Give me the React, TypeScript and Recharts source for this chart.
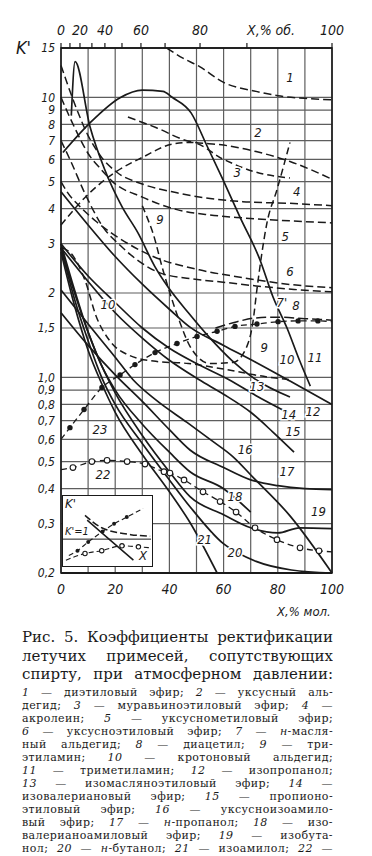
import React from "react";
import {
  LineChart,
  Line,
  XAxis,
  YAxis,
  CartesianGrid,
  ReferenceArea,
  ReferenceDot,
  ReferenceLine,
} from "recharts";

type Pt = { x: number; k: number; m?: boolean };

// axes
const yTicks = [0.2, 0.3, 0.4, 0.5, 0.6, 0.7, 0.8, 0.9, 1, 1.5, 2, 3, 4, 5, 6, 7, 8, 9, 10, 15];
const molTicks = [0, 10, 20, 30, 40, 50, 60, 70, 80, 90, 100];
const molLabels = [0, 20, 40, 60, 80, 100];
// mole-% positions of the volume-% ticks on the top axis
const volTickPos = [0, 3.3, 7.0, 11.4, 16.2, 22.5, 29.5, 38.4, 51.3, 68.6, 100];
const volTickText = ["0", "", "20", "", "40", "", "60", "", "80", "", "100"];

// curves: x = % mol, k = K'
const curve1: Pt[] = [
  { x: 39, k: 15 }, { x: 45, k: 13.8 }, { x: 51, k: 12.9 }, { x: 60, k: 11.3 },
  { x: 72, k: 10.5 }, { x: 81, k: 10.1 }, { x: 91, k: 9.9 }, { x: 100, k: 9.8 },
];
const curve2: Pt[] = [
  { x: 24.7, k: 8.5 }, { x: 35, k: 7.8 }, { x: 47.6, k: 6.95 }, { x: 60, k: 6.75 },
  { x: 72, k: 6.4 }, { x: 84.5, k: 5.9 }, { x: 100, k: 5.1 },
];
const curve3: Pt[] = [
  { x: 0, k: 3.5 }, { x: 10, k: 4.5 }, { x: 20, k: 5.4 }, { x: 30, k: 6.1 }, { x: 41, k: 6.8 },
  { x: 48, k: 6.9 }, { x: 60, k: 6.0 }, { x: 72, k: 5.4 }, { x: 84.5, k: 5.15 },
];
const curve4: Pt[] = [
  { x: 0, k: 13 }, { x: 5, k: 9.5 }, { x: 10, k: 7.3 }, { x: 15, k: 6.1 }, { x: 20.6, k: 5.4 },
  { x: 30, k: 4.9 }, { x: 42.8, k: 4.56 }, { x: 55, k: 4.35 }, { x: 67, k: 4.24 },
  { x: 84.5, k: 4.18 }, { x: 100, k: 4.1 },
];
const curve5: Pt[] = [
  { x: 0, k: 10 }, { x: 5, k: 7.8 }, { x: 10, k: 6.3 }, { x: 15, k: 5.5 }, { x: 19, k: 5.0 },
  { x: 30, k: 4.4 }, { x: 42.8, k: 3.97 }, { x: 55, k: 3.8 }, { x: 67, k: 3.71 },
  { x: 84.5, k: 3.62 }, { x: 100, k: 3.56 },
];
const curve6: Pt[] = [
  { x: 0, k: 5.0 }, { x: 2.2, k: 4.6 }, { x: 7, k: 4.07 }, { x: 13, k: 3.6 }, { x: 20.6, k: 3.18 },
  { x: 34, k: 2.7 }, { x: 51, k: 2.42 }, { x: 67, k: 2.27 }, { x: 85.6, k: 2.14 }, { x: 100, k: 2.09 },
];
const curve7: Pt[] = [
  { x: 0, k: 7 }, { x: 3.3, k: 6.0 }, { x: 9, k: 4.5 }, { x: 15.5, k: 3.44 }, { x: 22, k: 2.95 },
  { x: 28, k: 2.63 }, { x: 36.5, k: 2.36 }, { x: 48, k: 2.25 }, { x: 61, k: 2.18 },
  { x: 72, k: 2.12 }, { x: 86, k: 2.06 }, { x: 100, k: 2.02 },
];
const curve8: Pt[] = [
  { x: 57, k: 1.5 }, { x: 65, k: 1.58 }, { x: 72, k: 1.63 }, { x: 80, k: 1.64 },
  { x: 90, k: 1.62 }, { x: 100, k: 1.6 },
];
const curve9: Pt[] = [
  { x: 30, k: 4.1 }, { x: 31.7, k: 3.74 }, { x: 33.9, k: 3.28 }, { x: 37.6, k: 2.42 },
  { x: 43.9, k: 1.57 }, { x: 47.6, k: 1.29 }, { x: 55, k: 1.12 }, { x: 63.5, k: 1.13 },
  { x: 68.6, k: 1.29 }, { x: 70.8, k: 1.57 }, { x: 72.3, k: 2.06 }, { x: 76, k: 3.56 },
  { x: 79.7, k: 4.68 }, { x: 84.5, k: 6.9 },
];
const curve10: Pt[] = [
  { x: 0.5, k: 2.9 }, { x: 4, k: 2.75 }, { x: 9, k: 2.2 }, { x: 13, k: 1.65 }, { x: 18, k: 1.35 },
  { x: 25, k: 1.2 }, { x: 35, k: 1.14 }, { x: 47, k: 1.12 }, { x: 60, k: 1.07 },
  { x: 77, k: 1.0 }, { x: 85, k: 0.98 },
];
const curve11: Pt[] = [
  { x: 0.7, k: 6.35 }, { x: 10.7, k: 8.1 }, { x: 21.8, k: 9.96 }, { x: 30, k: 10.6 },
  { x: 37.6, k: 10.5 }, { x: 41, k: 10.0 }, { x: 48, k: 8.8 }, { x: 53.9, k: 6.7 },
  { x: 59.8, k: 5.07 }, { x: 66, k: 3.74 }, { x: 73.4, k: 2.63 }, { x: 78.2, k: 1.94 },
  { x: 83.4, k: 1.5 }, { x: 88, k: 1.15 }, { x: 92, k: 0.93 },
];
const curve12: Pt[] = [
  { x: 0, k: 4.6 }, { x: 10, k: 3.5 }, { x: 20, k: 2.7 }, { x: 30, k: 2.15 }, { x: 40, k: 1.75 },
  { x: 47.6, k: 1.51 }, { x: 60, k: 1.3 }, { x: 72, k: 1.13 }, { x: 84.5, k: 0.97 }, { x: 100, k: 0.8 },
];
const curve13: Pt[] = [
  { x: 3.8, k: 8.6 }, { x: 5.2, k: 13.4 }, { x: 10.7, k: 7.85 }, { x: 16.2, k: 5.5 },
  { x: 22.5, k: 4.07 }, { x: 28.4, k: 3.28 }, { x: 34.7, k: 2.48 }, { x: 39.5, k: 2.1 },
  { x: 47, k: 1.7 }, { x: 55, k: 1.38 }, { x: 63, k: 1.15 }, { x: 72, k: 0.98 }, { x: 84.5, k: 0.85 },
];
const curve14: Pt[] = [
  { x: 0, k: 3.0 }, { x: 10, k: 2.3 }, { x: 20, k: 1.85 }, { x: 30, k: 1.5 }, { x: 40, k: 1.27 },
  { x: 50, k: 1.12 }, { x: 62, k: 0.98 }, { x: 72, k: 0.86 }, { x: 83.5, k: 0.75 },
];
const curve15: Pt[] = [
  { x: 0, k: 2.9 }, { x: 10, k: 2.2 }, { x: 20, k: 1.7 }, { x: 30, k: 1.38 }, { x: 40, k: 1.15 },
  { x: 51, k: 0.98 }, { x: 60, k: 0.87 }, { x: 70, k: 0.75 }, { x: 78, k: 0.64 }, { x: 86, k: 0.54 },
];
const curve16: Pt[] = [
  { x: 0, k: 2.05 }, { x: 10, k: 1.55 }, { x: 20, k: 1.18 }, { x: 26.6, k: 0.98 }, { x: 35, k: 0.83 },
  { x: 46.5, k: 0.69 }, { x: 55, k: 0.6 }, { x: 63.5, k: 0.52 }, { x: 70.8, k: 0.44 },
  { x: 84.5, k: 0.32 }, { x: 100, k: 0.2 },
];
const curve17: Pt[] = [
  { x: 0, k: 1.7 }, { x: 10, k: 1.3 }, { x: 20, k: 1.02 }, { x: 30, k: 0.82 }, { x: 40, k: 0.65 },
  { x: 47.6, k: 0.55 }, { x: 60, k: 0.476 }, { x: 70, k: 0.43 }, { x: 80, k: 0.41 },
  { x: 90, k: 0.4 }, { x: 100, k: 0.397 },
];
const curve18: Pt[] = [
  { x: 0, k: 2.9 }, { x: 5, k: 2.0 }, { x: 10, k: 1.45 }, { x: 15, k: 1.1 }, { x: 20, k: 0.9 },
  { x: 30, k: 0.68 }, { x: 40, k: 0.54 }, { x: 47.6, k: 0.46 }, { x: 60, k: 0.4 }, { x: 70, k: 0.33 },
];
const curve19: Pt[] = [
  { x: 0, k: 3.0 }, { x: 5, k: 2.05 }, { x: 10, k: 1.45 }, { x: 15, k: 1.1 }, { x: 20, k: 0.88 },
  { x: 30, k: 0.62 }, { x: 40, k: 0.46 }, { x: 47.6, k: 0.375 }, { x: 60, k: 0.323 },
  { x: 70, k: 0.29 }, { x: 80, k: 0.278 }, { x: 88, k: 0.29 }, { x: 100, k: 0.288 },
];
const curve20: Pt[] = [
  { x: 0, k: 2.9 }, { x: 5, k: 1.9 }, { x: 10, k: 1.35 }, { x: 15, k: 1.0 }, { x: 20, k: 0.8 },
  { x: 30, k: 0.58 }, { x: 40, k: 0.43 }, { x: 47.6, k: 0.345 }, { x: 59.8, k: 0.255 },
  { x: 72, k: 0.22 }, { x: 85, k: 0.205 }, { x: 100, k: 0.2 },
];
const curve21: Pt[] = [
  { x: 0, k: 2.8 }, { x: 5, k: 1.8 }, { x: 10, k: 1.25 }, { x: 15, k: 0.95 }, { x: 20, k: 0.75 },
  { x: 30, k: 0.53 }, { x: 40, k: 0.39 }, { x: 47.6, k: 0.303 }, { x: 57.6, k: 0.2 },
];
const curve22: Pt[] = [
  { x: 0, k: 0.468 }, { x: 4.4, k: 0.476, m: true }, { x: 11.4, k: 0.5, m: true },
  { x: 17, k: 0.505, m: true }, { x: 24.4, k: 0.5, m: true }, { x: 31, k: 0.49, m: true },
  { x: 38, k: 0.46, m: true }, { x: 40.2, k: 0.455, m: true }, { x: 45.4, k: 0.43, m: true },
  { x: 52.4, k: 0.39, m: true }, { x: 58.7, k: 0.36, m: true }, { x: 64.6, k: 0.33, m: true },
  { x: 71.6, k: 0.29, m: true }, { x: 79.7, k: 0.263, m: true }, { x: 88.2, k: 0.246, m: true },
  { x: 95.2, k: 0.24, m: true }, { x: 100, k: 0.238 },
];
const curve23: Pt[] = [
  { x: 0, k: 0.6 }, { x: 3.3, k: 0.661, m: true }, { x: 8.5, k: 0.767, m: true },
  { x: 15.1, k: 0.919, m: true }, { x: 21.8, k: 1.02, m: true }, { x: 27.3, k: 1.11, m: true },
  { x: 34.7, k: 1.225, m: true }, { x: 42.8, k: 1.32, m: true }, { x: 50.2, k: 1.4, m: true },
  { x: 57.6, k: 1.46, m: true }, { x: 64.2, k: 1.52, m: true }, { x: 72.3, k: 1.55, m: true },
  { x: 80.1, k: 1.58, m: true }, { x: 87.5, k: 1.59, m: true }, { x: 94.8, k: 1.59, m: true },
  { x: 100, k: 1.58 },
];

// curve number labels
const curveLabels = [
  { t: "1", x: 84.5, k: 11.76 }, { t: "2", x: 72.7, k: 7.48 }, { t: "3", x: 65, k: 5.38 },
  { t: "4", x: 87, k: 4.6 }, { t: "5", x: 82.7, k: 3.18 }, { t: "6", x: 84.5, k: 2.38 },
  { t: "7'", x: 81.5, k: 1.85 }, { t: "8", x: 86.7, k: 1.8 }, { t: "9", x: 36.5, k: 3.66 },
  { t: "9", x: 75, k: 1.28 }, { t: "10", x: 17.3, k: 1.82 }, { t: "10", x: 83.4, k: 1.16 },
  { t: "11", x: 93.7, k: 1.18 }, { t: "12", x: 93, k: 0.754 }, { t: "13", x: 72.3, k: 0.927 },
  { t: "14", x: 84, k: 0.736 }, { t: "15", x: 85.6, k: 0.64 }, { t: "16", x: 68, k: 0.552 },
  { t: "17", x: 83.4, k: 0.46 }, { t: "18", x: 64.2, k: 0.375 }, { t: "19", x: 95, k: 0.331 },
  { t: "20", x: 64.2, k: 0.236 }, { t: "21", x: 53, k: 0.263 }, { t: "22", x: 15.5, k: 0.449 },
  { t: "23", x: 14.4, k: 0.65 },
];

// inset sketch (arbitrary units 0..100)
const insetDash: Pt[] = [{ x: 25, k: 72 }, { x: 44, k: 54 }, { x: 77, k: 44 }, { x: 99, k: 41.7 }];
const insetSolid: Pt[] = [{ x: 27.5, k: 65 }, { x: 50, k: 40 }, { x: 80, k: 7 }];
const insetFilled: Pt[] = [
  { x: 6.6, k: 13.9 }, { x: 16.5, k: 20.8, m: true }, { x: 28.6, k: 33.3, m: true },
  { x: 45, k: 48.6, m: true }, { x: 58, k: 59.7, m: true }, { x: 72.5, k: 69.4, m: true }, { x: 91, k: 82 },
];
const insetHollow: Pt[] = [
  { x: 3.3, k: 7 }, { x: 25, k: 16.7, m: true }, { x: 44, k: 20.8, m: true },
  { x: 67, k: 27.8, m: true }, { x: 85.7, k: 26.4, m: true }, { x: 99, k: 25 },
];

const captionLines = [
  "Рис. 5. Коэффициенты ректификации",
  "летучих примесей, сопутствующих",
  "спирту, при атмосферном давлении:",
];
const legendLines = [
  "1 — диэтиловый эфир; 2 — уксусный аль-",
  "дегид; 3 — муравьиноэтиловый эфир; 4 —",
  "акролеин; 5 — уксуснометиловый эфир;",
  "6 — уксусноэтиловый эфир; 7 — н-масля-",
  "ный альдегид; 8 — диацетил; 9 — три-",
  "этиламин; 10 — кротоновый альдегид;",
  "11 — триметиламин; 12 — изопропанол;",
  "13 — изомасляноэтиловый эфир; 14 —",
  "изовалериановый эфир; 15 — пропионо-",
  "этиловый эфир; 16 — уксусноизоамило-",
  "вый эфир; 17 — н-пропанол; 18 — изо-",
  "валерианоамиловый эфир; 19 — изобута-",
  "нол; 20 — н-бутанол; 21 — изоамилол; 22 —",
];

const INK = "#1a1a1a";
const GRID = "#5e5e5e";
const AX = "'Liberation Sans Narrow','DejaVu Sans Condensed','Liberation Sans',sans-serif";
const SERIF = "'DejaVu Serif','Liberation Serif',serif";
const DASH = "8 4";

const series = [
  { id: "c1", data: curve1, dash: DASH }, { id: "c2", data: curve2, dash: DASH },
  { id: "c3", data: curve3, dash: "7 4" }, { id: "c4", data: curve4, dash: DASH },
  { id: "c5", data: curve5, dash: DASH }, { id: "c6", data: curve6, dash: DASH },
  { id: "c7", data: curve7, dash: DASH }, { id: "c8", data: curve8, dash: "10 4" },
  { id: "c9", data: curve9, dash: "7 4" }, { id: "c10", data: curve10, dash: "7 4" },
  { id: "c11", data: curve11 }, { id: "c12", data: curve12 }, { id: "c13", data: curve13 },
  { id: "c14", data: curve14 }, { id: "c15", data: curve15 }, { id: "c16", data: curve16 },
  { id: "c17", data: curve17 }, { id: "c18", data: curve18 }, { id: "c19", data: curve19 },
  { id: "c20", data: curve20 }, { id: "c21", data: curve21 },
];

const fmtK = (v: number) => (v <= 1 ? v.toFixed(1).replace(".", ",") : v === 1.5 ? "1,5" : String(v));

const filledDot = (r: number) => (p: any) =>
  p.payload && p.payload.m ? (
    <circle key={"f" + p.index} cx={p.cx} cy={p.cy} r={r} fill={INK} />
  ) : (
    <g key={"f" + p.index} />
  );
const hollowDot = (r: number) => (p: any) =>
  p.payload && p.payload.m ? (
    <circle key={"h" + p.index} cx={p.cx} cy={p.cy} r={r} fill="#fff" stroke={INK} strokeWidth={1.1} />
  ) : (
    <g key={"h" + p.index} />
  );

const renderTopTick = (p: any) => {
  const v = p.payload ? p.payload.value : null;
  const i = volTickPos.indexOf(v);
  const t = i >= 0 ? volTickText[i] : "";
  return (
    <text key={"tt" + p.index} x={p.x} y={p.y - 2} textAnchor="middle" fontFamily={AX} fontStyle="italic" fontSize={14} fill={INK}>
      {t}
    </text>
  );
};

const italicize = (s: string) =>
  s.split(/(\d+|(?<![а-я])н(?=-))/).map((part, i) =>
    i % 2 === 1 ? <i key={i}>{part}</i> : <span key={i}>{part}</span>
  );

export default function App() {
  return (
    <div style={{ position: "absolute", left: 0, top: 0, width: 372, height: 856, background: "#fff", overflow: "hidden" }}>
      <LineChart width={372} height={610} margin={{ top: 20, right: 40, bottom: 7, left: 0 }}>
        <CartesianGrid xAxisId="bottom" stroke={GRID} strokeWidth={1.2} />
        <XAxis
          xAxisId="bottom"
          dataKey="x"
          type="number"
          domain={[0, 100]}
          ticks={molTicks}
          height={30}
          tickLine={false}
          axisLine={{ stroke: INK, strokeWidth: 2 }}
          tickSize={0}
          tickMargin={11}
          interval={0}
          tickFormatter={(v: number) => (molLabels.includes(v) ? String(v) : "")}
          tick={{ fontFamily: AX, fontStyle: "italic", fontSize: 14, fill: INK }}
        />
        <XAxis
          xAxisId="top"
          orientation="top"
          dataKey="x"
          type="number"
          domain={[0, 100]}
          ticks={volTickPos}
          height={28}
          interval={0}
          tickSize={5}
          tickMargin={6}
          tickLine={{ stroke: INK, strokeWidth: 1.2 }}
          axisLine={{ stroke: INK, strokeWidth: 1.4 }}
          tick={renderTopTick}
        />
        <YAxis
          type="number"
          scale="log"
          domain={[0.2, 15]}
          allowDataOverflow
          ticks={yTicks}
          interval={0}
          width={61}
          tickSize={0}
          tickMargin={6}
          tickLine={false}
          axisLine={false}
          tickFormatter={fmtK}
          tick={{ fontFamily: AX, fontStyle: "italic", fontSize: 12, fill: INK }}
        />
        <ReferenceArea
          xAxisId="bottom"
          x1={0}
          x2={100}
          y1={0.2}
          y2={15}
          fill="none"
          stroke={INK}
          strokeWidth={1.6}
          ifOverflow="visible"
        />
        {/* the top scale rides on curve 1 so that its axis is laid out; the line itself is not drawn */}
        <Line
          xAxisId="top"
          data={curve1}
          dataKey="k"
          stroke="none"
          dot={false}
          activeDot={false}
          legendType="none"
          isAnimationActive={false}
        />
        {series.map((s) => (
          <Line
            key={s.id}
            xAxisId="bottom"
            data={s.data}
            dataKey="k"
            type="monotone"
            stroke={INK}
            strokeWidth={s.dash ? 1.5 : 1.7}
            strokeDasharray={s.dash}
            dot={false}
            activeDot={false}
            isAnimationActive={false}
          />
        ))}
        <Line
          xAxisId="bottom"
          data={curve22}
          dataKey="k"
          type="monotone"
          stroke={INK}
          strokeWidth={1.3}
          strokeDasharray="6 4"
          dot={hollowDot(2.8)}
          activeDot={false}
          isAnimationActive={false}
        />
        <Line
          xAxisId="bottom"
          data={curve23}
          dataKey="k"
          type="monotone"
          stroke={INK}
          strokeWidth={1.3}
          strokeDasharray="6 4"
          dot={filledDot(2.7)}
          activeDot={false}
          isAnimationActive={false}
        />
        {curveLabels.map((l, i) => (
          <ReferenceDot
            key={"l" + i}
            xAxisId="bottom"
            x={l.x}
            y={l.k}
            r={0}
            ifOverflow="visible"
            shape={(p: any) => (
              <text
                x={p.cx}
                y={p.cy}
                textAnchor="middle"
                dominantBaseline="central"
                fontFamily={AX}
                fontStyle="italic"
                fontSize={13}
                fill={INK}
                stroke="#fff"
                strokeWidth={3}
                paintOrder="stroke"
              >
                {l.t}
              </text>
            )}
          />
        ))}
      </LineChart>

      {/* axis titles */}
      <div style={{ position: "absolute", left: 16, top: 37, fontFamily: AX, fontStyle: "italic", fontSize: 18, color: INK }}>
        K'
      </div>
      <div style={{ position: "absolute", left: 247, top: 22, fontFamily: AX, fontStyle: "italic", fontSize: 14, color: INK }}>
        X,% об.
      </div>
      <div style={{ position: "absolute", left: 277, top: 604, fontFamily: AX, fontStyle: "italic", fontSize: 13, color: INK }}>
        X,% мол.
      </div>

      {/* inset sketch */}
      <div
        style={{
          position: "absolute",
          left: 62,
          top: 495,
          width: 91,
          height: 72,
          background: "#fff",
          border: `1.5px solid ${INK}`,
          boxSizing: "border-box",
        }}
      >
        <LineChart width={88} height={69} margin={{ top: 0, right: 0, bottom: 0, left: 0 }}>
          <XAxis xAxisId="ix" dataKey="x" type="number" domain={[0, 100]} hide />
          <YAxis yAxisId="iy" type="number" domain={[0, 100]} hide />
          <ReferenceLine xAxisId="ix" yAxisId="iy" y={37.5} stroke={INK} strokeWidth={1} />
          <Line xAxisId="ix" yAxisId="iy" data={insetDash} dataKey="k" type="monotone" stroke={INK} strokeWidth={1.5} strokeDasharray="7 3" dot={false} activeDot={false} isAnimationActive={false} />
          <Line xAxisId="ix" yAxisId="iy" data={insetSolid} dataKey="k" type="monotone" stroke={INK} strokeWidth={1.5} dot={false} activeDot={false} isAnimationActive={false} />
          <Line xAxisId="ix" yAxisId="iy" data={insetFilled} dataKey="k" type="monotone" stroke={INK} strokeWidth={1.1} strokeDasharray="5 3" dot={filledDot(2)} activeDot={false} isAnimationActive={false} />
          <Line xAxisId="ix" yAxisId="iy" data={insetHollow} dataKey="k" type="monotone" stroke={INK} strokeWidth={1.1} strokeDasharray="5 3" dot={hollowDot(2.2)} activeDot={false} isAnimationActive={false} />
        </LineChart>
        <div style={{ position: "absolute", left: 2, top: 0, fontFamily: AX, fontStyle: "italic", fontSize: 13, color: INK }}>K'</div>
        <div style={{ position: "absolute", left: 2, top: 29, fontFamily: AX, fontStyle: "italic", fontSize: 11, color: INK }}>K'=1</div>
        <div style={{ position: "absolute", left: 76, top: 52, fontFamily: AX, fontStyle: "italic", fontSize: 13, color: INK }}>X</div>
      </div>

      {/* caption */}
      <div style={{ position: "absolute", left: 22, top: 628, width: 311, fontFamily: SERIF, fontSize: 15, color: INK }}>
        {captionLines.map((s, i) => (
          <div key={i} style={{ height: 18.7, lineHeight: "18.7px", textAlign: "justify", textAlignLast: "justify", overflow: "hidden" }}>
            {s}
          </div>
        ))}
      </div>
      <div style={{ position: "absolute", left: 22, top: 686, width: 311, fontFamily: SERIF, fontSize: 11, letterSpacing: 0.4, color: INK }}>
        {legendLines.map((s, i) => (
          <div key={i} style={{ height: 13, lineHeight: "13px", textAlign: "justify", textAlignLast: "justify", overflow: "hidden" }}>
            {italicize(s)}
          </div>
        ))}
      </div>
    </div>
  );
}
